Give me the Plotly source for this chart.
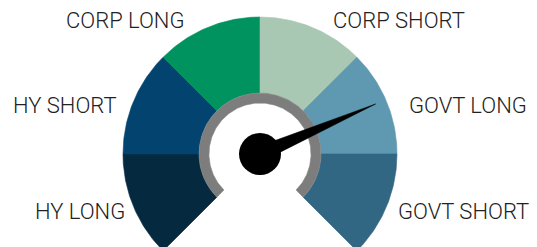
import numpy as np
import plotly.graph_objects as go

# ---- data ----
categories = ["HY LONG", "HY SHORT", "CORP LONG", "CORP SHORT", "GOVT LONG", "GOVT SHORT"]
segment_sizes = [1, 1, 1, 1, 1, 1]
needle_value = 4.48          # position on the 0..6 scale
colors = ["#052a3f", "#02446f", "#00925f", "#a9c8b4", "#5e99b1", "#316783"]

# ---- styling / geometry ----
start_deg, sweep_deg = 225.0, 270.0
r_out, r_in = 137.0, 61.0
ring_out, ring_in = 61.0, 51.0
label_pos = {
    "CORP LONG": (-135, 134), "CORP SHORT": (139, 134),
    "HY SHORT": (-195, 49), "GOVT LONG": (208, 49),
    "HY LONG": (-180, -57), "GOVT SHORT": (203, -57),
}

total = sum(segment_sizes)
def ang(v):
    return np.deg2rad(start_deg - sweep_deg * v / total)

def annulus(v0, v1, ro, ri, n=60):
    t = np.linspace(ang(v0), ang(v1), n)
    xs = np.concatenate([ro * np.cos(t), ri * np.cos(t[::-1])])
    ys = np.concatenate([ro * np.sin(t), ri * np.sin(t[::-1])])
    return np.append(xs, xs[0]), np.append(ys, ys[0])

fig = go.Figure()
cum = 0
for name, size, col in zip(categories, segment_sizes, colors):
    xs, ys = annulus(cum, cum + size, r_out, r_in)
    fig.add_trace(go.Scatter(x=xs, y=ys, fill="toself", fillcolor=col, mode="lines",
                             line=dict(width=0.6, color=col), hoverinfo="text", text=name,
                             showlegend=False))
    cum += size

# grey ring
xs, ys = annulus(0, total, ring_out, ring_in, n=200)
fig.add_trace(go.Scatter(x=xs, y=ys, fill="toself", fillcolor="#7d7d7d", mode="lines",
                         line=dict(width=0.6, color="#8a8a8a"), hoverinfo="skip", showlegend=False))

# needle
a = ang(needle_value)
L, hw = 126.0, 7.5
tip = (L * np.cos(a), L * np.sin(a))
p1 = (hw * np.cos(a + np.pi / 2), hw * np.sin(a + np.pi / 2))
p2 = (hw * np.cos(a - np.pi / 2), hw * np.sin(a - np.pi / 2))
fig.add_trace(go.Scatter(x=[p1[0], tip[0], p2[0], p1[0]], y=[p1[1], tip[1], p2[1], p1[1]],
                         fill="toself", fillcolor="black", mode="lines",
                         line=dict(width=0.5, color="black"), hoverinfo="skip", showlegend=False))
fig.add_trace(go.Scatter(x=[0], y=[0], mode="markers",
                         marker=dict(size=42, color="black", line=dict(width=0)),
                         hoverinfo="skip", showlegend=False))

for name in categories:
    x, y = label_pos[name]
    fig.add_annotation(x=x, y=y, text=name, showarrow=False, xref="x", yref="y",
                       font=dict(family="Roboto, Liberation Sans, Arial, sans-serif",
                                 size=22, color="#222222", weight=300))

fig.update_layout(
    width=537, height=247, margin=dict(l=0, r=0, t=0, b=0),
    paper_bgcolor="white", plot_bgcolor="white",
    xaxis=dict(range=[-260, 277], visible=False, fixedrange=True),
    yaxis=dict(range=[-93, 154], visible=False, fixedrange=True),
)
fig.write_html("out.html", config={"displayModeBar": False},
               post_script="document.body.style.margin='0';document.body.style.overflow='hidden';")
